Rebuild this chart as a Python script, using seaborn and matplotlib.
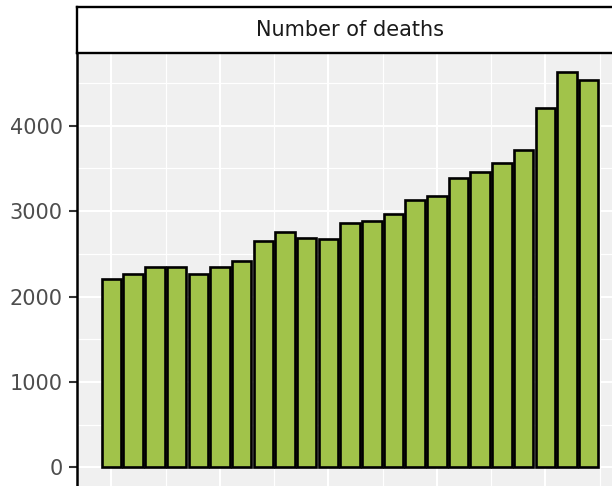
import matplotlib
matplotlib.use("Agg")
import matplotlib.pyplot as plt
import seaborn as sns
import pandas as pd

# Data
years = list(range(1990, 2013))
deaths = [2205, 2264, 2349, 2349, 2264, 2349, 2412, 2653, 2752, 2681, 2670,
          2861, 2888, 2966, 3130, 3180, 3391, 3461, 3567, 3716, 4203, 4625, 4535]
strip_title = "Number of deaths"
y_ticks = [0, 1000, 2000, 3000, 4000]

plt.rcParams['font.family'] = ['DejaVu Sans']

df = pd.DataFrame({"year": years, "deaths": deaths})

W, H = 612, 486
fig = plt.figure(figsize=(W / 100, H / 100), dpi=100)

left_px, right_px = 76.9, 623.3
top_px, bot_px = 52.6, 487.1
ax = fig.add_axes([left_px / W, (H - bot_px) / H,
                   (right_px - left_px) / W, (bot_px - top_px) / H])

sns.barplot(data=df, x="year", y="deaths", native_scale=True, width=0.9,
            color="#A1C34A", saturation=1, edgecolor="black", linewidth=1.9,
            ax=ax, zorder=3)

ax.set_facecolor("#F0F0F0")
ax.set_axisbelow(True)
ax.set_xlim(1988.405, 2013.595)
ax.set_ylim(-231.25, 4856.25)

ax.set_xticks([1990, 1995, 2000, 2005, 2010])
ax.set_xticks([1992.5, 1997.5, 2002.5, 2007.5, 2012.5], minor=True)
ax.set_yticks(y_ticks)
ax.set_yticks([500, 1500, 2500, 3500, 4500], minor=True)
ax.set_yticklabels([str(v) for v in y_ticks])

ax.grid(which="major", color="white", linewidth=1.5)
ax.grid(which="minor", color="white", linewidth=0.9)

ax.tick_params(axis="x", which="both", length=0, labelbottom=False)
ax.tick_params(axis="y", which="major", length=5.8, width=1.5, color="#333333",
               labelsize=15, labelcolor="#4D4D4D", pad=4.5)
ax.tick_params(axis="y", which="minor", length=0)
ax.set_xlabel("")
ax.set_ylabel("")

for s in ["top", "right", "bottom"]:
    ax.spines[s].set_visible(False)
ax.spines["left"].set_color("black")
ax.spines["left"].set_linewidth(1.8)

# Facet strip
strip_top = 7.3
sax = fig.add_axes([left_px / W, (H - top_px) / H,
                    (right_px - left_px) / W, (top_px - strip_top) / H])
sax.set_facecolor("white")
sax.set_xticks([])
sax.set_yticks([])
for s in sax.spines.values():
    s.set_color("black")
    s.set_linewidth(1.7)
sax.text(0.5, 0.5, strip_title, transform=sax.transAxes, ha="center",
         va="center", fontsize=15, color="#1A1A1A")

fig.savefig("out.png", dpi=100)
